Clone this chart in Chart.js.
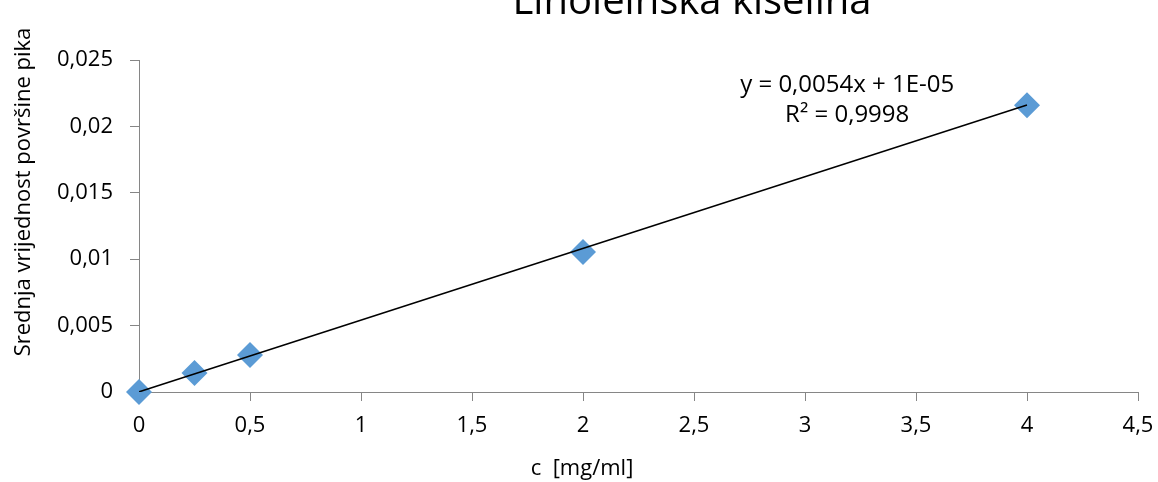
<!DOCTYPE html>
<html>
<head>
<meta charset="utf-8">
<script src="https://cdn.jsdelivr.net/npm/chart.js@4.4.0/dist/chart.umd.min.js"></script>
<style>
  html, body { margin: 0; padding: 0; background: #fff; }
  canvas { display: block; }
</style>
</head>
<body>
<canvas id="chart" width="1158" height="482"></canvas>
<script>
// measured points
const concentration = [0, 0.25, 0.5, 2, 4];
const peakArea = [0, 0.00143, 0.00279, 0.01054, 0.0216];

// linear trendline as shown on the chart
const trendSlope = 0.0054;
const trendIntercept = 0.00001;
const trendRange = [0, 4];

const xTickLabels = ['0', '0,5', '1', '1,5', '2', '2,5', '3', '3,5', '4', '4,5'];
const yTickLabels = ['0', '0,005', '0,01', '0,015', '0,02', '0,025'];

const chartTitle = 'Linoleinska kiselina';
const xTitle = 'c  [mg/ml]';
const yTitle = 'Srednja vrijednost površine pika';
const equationLines = ['y = 0,0054x + 1E-05', 'R² = 0,9998'];

const FONT = '"Open Sans", "Noto Sans", sans-serif';
const axisGrey = '#868686';

const points = concentration.map((c, i) => ({ x: c, y: peakArea[i] }));
const trend = trendRange.map(c => ({ x: c, y: trendSlope * c + trendIntercept }));

// titles and the trendline label are placed where Excel put them
const labelsPlugin = {
    id: 'labels',
    afterDraw(chart) {
        const { ctx } = chart;
        const x = chart.scales.x;
        const y = chart.scales.y;
        ctx.save();
        ctx.fillStyle = '#000';
        ctx.textAlign = 'center';
        ctx.textBaseline = 'alphabetic';

        ctx.font = '40px ' + FONT;
        ctx.fillText(chartTitle, 692, 14);

        ctx.font = '24px ' + FONT;
        const ex = x.getPixelForValue(3.19);
        const ey = y.getPixelForValue(0.0226);
        ctx.fillText(equationLines[0], ex, ey);
        ctx.fillText(equationLines[1], ex, ey + 30);

        ctx.font = '22px ' + FONT;
        ctx.fillText(xTitle, 582, 475);

        ctx.translate(24, 192);
        ctx.rotate(-Math.PI / 2);
        ctx.textBaseline = 'middle';
        ctx.fillText(yTitle, 0, 0);
        ctx.restore();
    }
};

new Chart(document.getElementById('chart'), {
    type: 'scatter',
    data: {
        datasets: [{
            label: 'trend',
            data: trend,
            showLine: true,
            borderColor: '#000',
            borderWidth: 1.5,
            pointRadius: 0,
            order: 0
        }, {
            label: 'Linoleinska kiselina',
            data: points,
            pointStyle: 'rectRot',
            pointRadius: 13,
            backgroundColor: '#5B9BD5',
            borderColor: '#5B9BD5',
            borderWidth: 0,
            clip: false,
            order: 1
        }]
    },
    plugins: [labelsPlugin],
    options: {
        responsive: false,
        animation: false,
        layout: { padding: { top: 60, right: 20, left: 0, bottom: 0 } },
        plugins: {
            legend: { display: false },
            tooltip: { enabled: false }
        },
        scales: {
            x: {
                type: 'linear',
                min: 0,
                max: 4.5,
                afterFit: scale => {
                    scale.height = 90;
                    scale.paddingRight = 20; // let the last label hang into the margin
                },
                border: { display: true, color: axisGrey, width: 1 },
                grid: { drawOnChartArea: false, drawTicks: true, tickLength: 9, color: axisGrey },
                ticks: {
                    stepSize: 0.5,
                    padding: 12,
                    color: '#000',
                    font: { family: FONT, size: 22 },
                    callback: (v, i) => xTickLabels[i]
                }
            },
            y: {
                type: 'linear',
                min: 0,
                max: 0.025,
                afterFit: scale => { scale.width = 139; },
                border: { display: true, color: axisGrey, width: 1 },
                grid: { drawOnChartArea: false, drawTicks: true, tickLength: 9, color: axisGrey },
                ticks: {
                    stepSize: 0.005,
                    padding: 17,
                    color: '#000',
                    font: { family: FONT, size: 22 },
                    callback: (v, i) => yTickLabels[i]
                }
            }
        }
    }
});
</script>
</body>
</html>
